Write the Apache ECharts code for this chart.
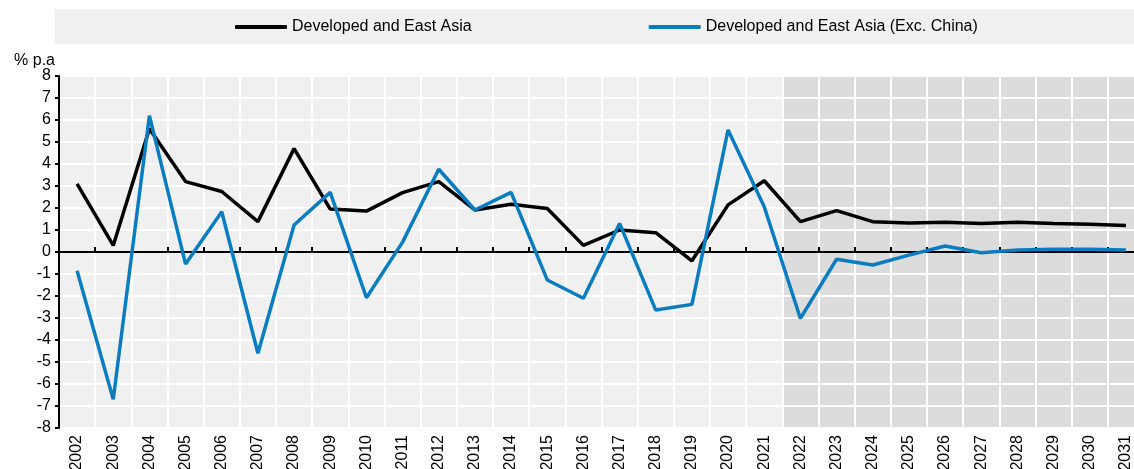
<!DOCTYPE html>
<html>
<head>
<meta charset="utf-8">
<script src="https://cdn.jsdelivr.net/npm/echarts@6/dist/echarts.min.js"></script>
<style>
  html, body { margin: 0; padding: 0; background: #ffffff; }
  #chart { width: 1134px; height: 469px; }
</style>
</head>
<body>
<div id="chart"></div>
<script>
// Real GDP growth, % per annum
const years = ['2002','2003','2004','2005','2006','2007','2008','2009','2010','2011',
  '2012','2013','2014','2015','2016','2017','2018','2019','2020','2021',
  '2022','2023','2024','2025','2026','2027','2028','2029','2030','2031'];

const developedEastAsia = [3.1, 0.3, 5.6, 3.2, 2.75, 1.38, 4.7, 1.95, 1.86, 2.7,
  3.2, 1.91, 2.17, 1.98, 0.3, 1.0, 0.88, -0.4, 2.14, 3.24,
  1.38, 1.88, 1.38, 1.32, 1.35, 1.3, 1.35, 1.3, 1.26, 1.2];

const developedEastAsiaExChina = [-0.85, -6.7, 6.2, -0.55, 1.83, -4.6, 1.23, 2.71, -2.08, 0.45,
  3.76, 1.91, 2.71, -1.27, -2.1, 1.3, -2.64, -2.38, 5.55, 2.06,
  -3.02, -0.33, -0.59, -0.14, 0.27, -0.03, 0.09, 0.12, 0.12, 0.09];

const yTicks = { min: -8, max: 8, step: 1 };
const projectionStart = '2022';

const seriesNames = ['Developed and East Asia', 'Developed and East Asia (Exc. China)'];
const seriesColors = ['#000000', '#0a7cc0'];

const FONT = '"Liberation Sans", Arial, sans-serif';

// projection years are shaded from the top to the bottom of the value axis
const shadeUp = years.map(y => (y >= projectionStart ? yTicks.max : '-'));
const shadeDown = years.map(y => (y >= projectionStart ? yTicks.min : '-'));

const chart = echarts.init(document.getElementById('chart'), null, { renderer: 'canvas' });

chart.setOption({
  animation: false,
  textStyle: { fontFamily: FONT },
  graphic: [{
    type: 'rect',
    left: 55, top: 9,
    shape: { width: 1100, height: 35 },
    style: { fill: '#f0f0f0' },
    silent: true,
    z: -1
  }],
  legend: {
    data: seriesNames,
    left: 235,
    top: 19,
    padding: 0,
    itemGap: 177,
    itemWidth: 52,
    itemHeight: 4,
    icon: 'roundRect',
    textStyle: { fontFamily: FONT, fontSize: 16, color: '#000' }
  },
  grid: {
    left: 59, top: 76, width: 1085, height: 352,
    outerBoundsMode: 'none',
    show: true, backgroundColor: '#f0f0f0', borderWidth: 0,
    containLabel: false
  },
  xAxis: [{
    type: 'category',
    data: years,
    position: 'bottom',
    z: 3,
    axisLine: { show: false, onZero: false },
    axisTick: { show: false },
    axisLabel: {
      rotate: 90, interval: 0, margin: 7,
      fontFamily: FONT, fontSize: 16, color: '#000'
    },
    splitLine: { show: true, interval: 0, lineStyle: { color: '#ffffff', width: 2 } }
  }, {
    type: 'category',
    data: years,
    position: 'top',
    z: 4,
    axisLine: { show: true, onZero: true, lineStyle: { color: '#000', width: 2 } },
    axisTick: { show: true, inside: false, length: 5, interval: 0, lineStyle: { color: '#000', width: 2 } },
    axisLabel: { show: false },
    splitLine: { show: false }
  }],
  yAxis: {
    type: 'value',
    min: yTicks.min, max: yTicks.max, interval: yTicks.step,
    z: 3,
    name: '% p.a',
    nameLocation: 'end',
    nameGap: 7,
    nameTextStyle: { fontFamily: FONT, fontSize: 16, color: '#000', align: 'right', padding: [0, 4, 0, 0] },
    axisLine: { show: true, lineStyle: { color: '#000', width: 2 } },
    axisTick: { show: true, length: 4, lineStyle: { color: '#000', width: 2 } },
    axisLabel: { margin: 8, fontFamily: FONT, fontSize: 16, color: '#000' },
    splitLine: { show: true, lineStyle: { color: '#ffffff', width: 2 } }
  },
  series: [{
    type: 'bar', xAxisIndex: 0, data: shadeUp,
    barWidth: '100%', barGap: '-100%', silent: true, z: 1,
    itemStyle: { color: '#dcdcdc' }
  }, {
    type: 'bar', xAxisIndex: 0, data: shadeDown,
    barWidth: '100%', barGap: '-100%', silent: true, z: 1,
    itemStyle: { color: '#dcdcdc' }
  }, {
    name: seriesNames[0], type: 'line', xAxisIndex: 0, data: developedEastAsia,
    symbol: 'none', z: 6,
    itemStyle: { color: seriesColors[0] },
    lineStyle: { color: seriesColors[0], width: 3.5 }
  }, {
    name: seriesNames[1], type: 'line', xAxisIndex: 0, data: developedEastAsiaExChina,
    symbol: 'none', z: 7,
    itemStyle: { color: seriesColors[1] },
    lineStyle: { color: seriesColors[1], width: 3.5 }
  }]
});
</script>
</body>
</html>
